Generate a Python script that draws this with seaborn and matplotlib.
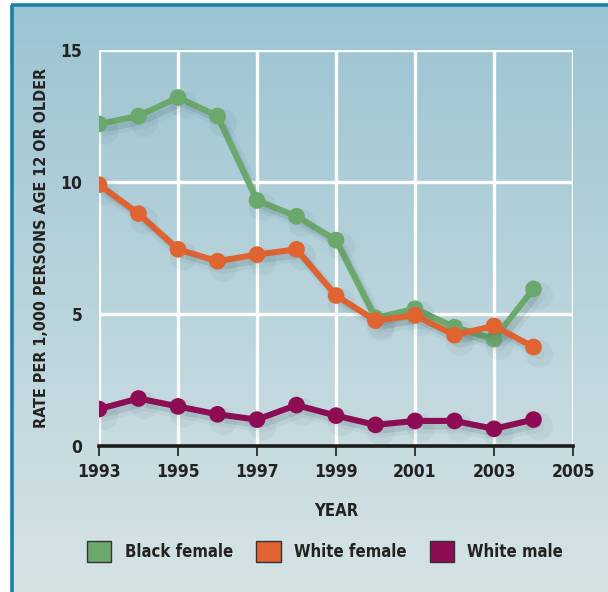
import numpy as np
import pandas as pd
import matplotlib
matplotlib.use("Agg")
import matplotlib.pyplot as plt
import matplotlib.patheffects as pe
from matplotlib.patches import Patch
import seaborn as sns

years = list(range(1993, 2005))
black_female = [12.2, 12.5, 13.2, 12.5, 9.3, 8.7, 7.8, 4.85, 5.2, 4.5, 4.05, 5.95]
white_female = [9.9, 8.8, 7.45, 7.0, 7.25, 7.45, 5.7, 4.75, 4.95, 4.2, 4.55, 3.75]
white_male = [1.4, 1.8, 1.5, 1.2, 1.0, 1.55, 1.15, 0.8, 0.95, 0.95, 0.65, 1.0]

series_names = ["Black female", "White female", "White male"]
series_colors = ["#6aa86b", "#e06431", "#8e0c53"]
x_ticks = [1993, 1995, 1997, 1999, 2001, 2003, 2005]
y_ticks = [0, 5, 10, 15]

df = pd.DataFrame({
    "year": years * 3,
    "rate": black_female + white_female + white_male,
    "group": sum([[n] * len(years) for n in series_names], []),
})

sns.set_theme(style="white")
plt.rcParams["font.family"] = ["DejaVu Sans"]
text_kw = dict(fontweight="bold", fontstretch="condensed", color="#222222")

W, H = 608, 592
fig = plt.figure(figsize=(W / 100, H / 100), dpi=100, facecolor="white")

# gradient panel with teal frame
bg = fig.add_axes([0, 0, 1, 1], zorder=-10)
bg.set_xlim(0, W)
bg.set_ylim(H, 0)
bg.axis("off")
top = np.array([155, 196, 210]) / 255
bot = np.array([214, 227, 229]) / 255
t = np.linspace(0, 1, 256)[:, None, None]
grad = top * (1 - t) + bot * t
grad = np.repeat(grad, 2, axis=1)
bg.imshow(grad, extent=[13, W, H, 5], aspect="auto", interpolation="bilinear")
bg.plot([12, 12], [5, H], color="#1b7fa6", lw=2.6, solid_capstyle="butt")
bg.plot([11, W], [5, 5], color="#1b7fa6", lw=2.6, solid_capstyle="butt")

ax = fig.add_axes([99 / W, 1 - 446 / H, 474 / W, 396 / H])
ax.set_facecolor("none")

# soft drop shadow under lines and markers
shadow = [pe.SimpleLineShadow(offset=(4, -5), shadow_color="#3b5660", alpha=0.06,
                              linewidth=8),
          pe.SimpleLineShadow(offset=(3, -4), shadow_color="#3b5660", alpha=0.14),
          pe.Normal()]

sns.lineplot(data=df, x="year", y="rate", hue="group", hue_order=series_names,
             palette=series_colors, marker="o", markersize=12, markeredgewidth=0,
             linewidth=4.4, legend=False, ax=ax, zorder=5)
for ln in ax.get_lines():
    ln.set_path_effects(shadow)

ax.set_xlim(1993, 2005)
ax.set_ylim(0, 15)
ax.set_xticks(x_ticks)
ax.set_yticks(y_ticks)
ax.set_xticklabels([str(v) for v in x_ticks], fontsize=12.5, **text_kw)
ax.set_yticklabels([str(v) for v in y_ticks], fontsize=12.5, **text_kw)
ax.grid(True, color="white", lw=2.4)
ax.set_axisbelow(True)
for side in ["top", "right", "left"]:
    ax.spines[side].set_visible(False)
ax.spines["bottom"].set_color("#1c1c1c")
ax.spines["bottom"].set_linewidth(2.6)
ax.spines["bottom"].set_zorder(6)
ax.tick_params(axis="x", direction="out", length=7, width=1.2, color="#1c1c1c",
               pad=5, bottom=True)
ax.tick_params(axis="y", length=0, pad=12)
ax.set_xlabel("YEAR", fontsize=12, labelpad=15, **text_kw)
ax.set_ylabel("RATE PER 1,000 PERSONS AGE 12 OR OLDER", fontsize=11.5,
              labelpad=8, **text_kw)

handles = [Patch(facecolor=c, edgecolor="#333333", linewidth=1.0) for c in series_colors]
leg = fig.legend(handles, series_names, loc="center", bbox_to_anchor=(0.535, 0.069),
                 ncol=3, frameon=False, handlelength=1.45, handleheight=1.55,
                 handletextpad=0.8, columnspacing=1.4,
                 prop=dict(weight="bold", stretch="condensed", size=12))
for txt in leg.get_texts():
    txt.set_color("#222222")

fig.savefig("out.png", dpi=100, facecolor="white")
